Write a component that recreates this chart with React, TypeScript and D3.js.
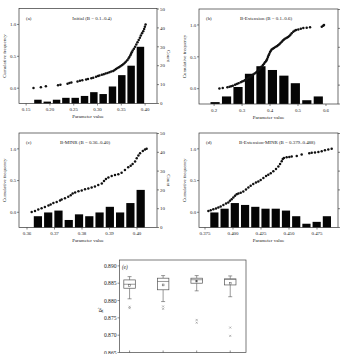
import React from 'react';
import * as d3 from 'd3';

// ---------- data ----------
// histogram counts (right axis "Count") and bin ranges (parameter value)
const countsA = [2, 1, 2, 3, 3, 4, 6, 5, 9, 15, 20, 30];
const binRangeA = [0.165, 0.4];
const countsB = [1, 4, 9, 16, 20, 18, 15, 11, 2, 4];
const binRangeB = [0.183, 0.593];
const countsC = [6, 8, 9, 4, 7, 6, 8, 11, 8, 13, 20];
const binRangeC = [0.3621, 0.4032];
const countsD = [8, 10, 13, 12, 11, 10, 10, 9, 6, 2, 3, 6];
const binRangeD = [0.3788, 0.4884];

// cumulative frequency points (left axis)
const cdfAx = [0.1655, 0.181, 0.1915, 0.217, 0.222, 0.237, 0.241, 0.245, 0.258, 0.263, 0.268, 0.276, 0.28, 0.287, 0.291, 0.297, 0.301, 0.304, 0.309, 0.313, 0.317, 0.321, 0.325, 0.329, 0.333, 0.336, 0.339, 0.342, 0.345, 0.348, 0.351, 0.354, 0.357, 0.3595, 0.3625, 0.365, 0.367, 0.369, 0.3705, 0.372, 0.374, 0.3765, 0.379, 0.3815, 0.384, 0.3865, 0.389, 0.391, 0.3935, 0.396, 0.398, 0.3995, 0.401];
const cdfAy = [0.005, 0.015, 0.03, 0.045, 0.055, 0.07, 0.08, 0.09, 0.105, 0.115, 0.125, 0.135, 0.145, 0.155, 0.165, 0.18, 0.19, 0.2, 0.21, 0.22, 0.23, 0.24, 0.25, 0.26, 0.27, 0.285, 0.3, 0.315, 0.33, 0.345, 0.36, 0.375, 0.395, 0.415, 0.44, 0.465, 0.49, 0.515, 0.54, 0.565, 0.59, 0.62, 0.65, 0.685, 0.72, 0.755, 0.79, 0.825, 0.86, 0.895, 0.93, 0.965, 1.0];

const cdfBx = [0.219, 0.231, 0.2476, 0.255, 0.261, 0.267, 0.275, 0.281, 0.287, 0.295, 0.3, 0.305, 0.31, 0.314, 0.318, 0.3226, 0.327, 0.331, 0.336, 0.34, 0.345, 0.35, 0.354, 0.358, 0.361, 0.364, 0.367, 0.37, 0.3745, 0.3786, 0.382, 0.386, 0.388, 0.39, 0.3925, 0.395, 0.3975, 0.4, 0.403, 0.406, 0.41, 0.414, 0.419, 0.424, 0.4285, 0.433, 0.4375, 0.442, 0.446, 0.45, 0.455, 0.46, 0.4645, 0.469, 0.473, 0.4775, 0.483, 0.488, 0.493, 0.501, 0.51, 0.519, 0.531, 0.543, 0.585, 0.59, 0.593];
const cdfBy = [0.005, 0.011, 0.021, 0.032, 0.04, 0.048, 0.063, 0.074, 0.085, 0.1, 0.111, 0.122, 0.132, 0.143, 0.156, 0.17, 0.18, 0.19, 0.206, 0.222, 0.238, 0.254, 0.27, 0.286, 0.299, 0.312, 0.33, 0.349, 0.37, 0.392, 0.413, 0.434, 0.452, 0.47, 0.497, 0.524, 0.55, 0.577, 0.595, 0.614, 0.627, 0.64, 0.653, 0.667, 0.682, 0.698, 0.716, 0.735, 0.754, 0.773, 0.787, 0.8, 0.812, 0.825, 0.846, 0.868, 0.894, 0.907, 0.92, 0.93, 0.94, 0.952, 0.957, 0.963, 0.973, 0.989, 1.0];

const cdfCx = [0.3617, 0.3629, 0.3641, 0.3653, 0.3665, 0.3678, 0.3686, 0.3696, 0.3708, 0.372, 0.3726, 0.3738, 0.375, 0.3759, 0.3766, 0.3775, 0.3787, 0.3799, 0.3811, 0.3823, 0.3835, 0.3847, 0.3859, 0.3872, 0.388, 0.3887, 0.3896, 0.3908, 0.392, 0.3932, 0.3944, 0.3956, 0.3968, 0.3977, 0.3984, 0.3993, 0.3999, 0.4005, 0.4011, 0.4021, 0.4029, 0.4035];
const cdfCy = [0.005, 0.021, 0.042, 0.063, 0.085, 0.106, 0.122, 0.148, 0.164, 0.185, 0.2, 0.222, 0.243, 0.27, 0.296, 0.312, 0.333, 0.344, 0.365, 0.376, 0.392, 0.407, 0.429, 0.455, 0.492, 0.524, 0.55, 0.571, 0.587, 0.598, 0.624, 0.667, 0.709, 0.735, 0.762, 0.8, 0.852, 0.894, 0.93, 0.968, 0.99, 1.0];

const cdfDx = [0.378, 0.3801, 0.3824, 0.3848, 0.3869, 0.389, 0.3914, 0.3938, 0.3958, 0.3973, 0.3988, 0.4003, 0.4018, 0.4033, 0.4048, 0.4069, 0.4092, 0.4116, 0.4137, 0.4158, 0.4181, 0.4205, 0.4226, 0.4247, 0.4271, 0.4295, 0.4315, 0.4337, 0.436, 0.4384, 0.4405, 0.442, 0.4435, 0.4444, 0.4455, 0.4479, 0.4503, 0.4524, 0.4569, 0.4613, 0.4681, 0.4703, 0.4732, 0.4762, 0.4792, 0.4821, 0.4851, 0.4881];
const cdfDy = [0.021, 0.032, 0.048, 0.058, 0.074, 0.09, 0.116, 0.138, 0.153, 0.18, 0.206, 0.233, 0.259, 0.286, 0.296, 0.307, 0.328, 0.36, 0.392, 0.418, 0.444, 0.471, 0.487, 0.508, 0.54, 0.571, 0.593, 0.614, 0.646, 0.683, 0.72, 0.762, 0.804, 0.841, 0.857, 0.868, 0.873, 0.878, 0.889, 0.91, 0.931, 0.937, 0.942, 0.952, 0.963, 0.979, 0.99, 1.0];

// tick labels
const ticksA = [0.15, 0.2, 0.25, 0.3, 0.35, 0.4];
const ticksB = [0.2, 0.3, 0.4, 0.5, 0.6];
const ticksC = [0.36, 0.37, 0.38, 0.39, 0.4];
const ticksD = [0.375, 0.4, 0.425, 0.45, 0.475];
const cumTicks = [0, 0.5, 1.0];
const countTicks = [0, 10, 20, 30, 40, 50];

// box plot (e)
const boxLabels = ['1', '2', '3', '4'];
const boxLow = [0.8805, 0.8797, 0.8828, 0.8811];
const boxQ1 = [0.88355, 0.8831, 0.885, 0.8845];
const boxMedian = [0.8847, 0.8855, 0.886, 0.8861];
const boxQ3 = [0.88595, 0.88645, 0.88645, 0.88625];
const boxHigh = [0.8869, 0.8872, 0.8872, 0.8871];
const boxMean = [0.8843, 0.8845, 0.8856, 0.885];
const boxOutliers = [[0.8782, 0.8778], [0.8783, 0.8776], [0.8744, 0.8736], [0.8722, 0.8698]];
const eTicks = [0.865, 0.87, 0.875, 0.88, 0.885, 0.89];

const FONT = '"Liberation Serif", "DejaVu Serif", "Times New Roman", serif';

type PanelProps = {
  left: number; right: number; top: number; bottom: number;
  xDomain: [number, number]; xTicks: number[]; xFmt: string;
  counts: number[]; binRange: number[];
  cx: number[]; cy: number[];
  tag: string; title: string; titleX: number;
  rightLabels: boolean;
};

function HistPanel(p: PanelProps) {
  const x = d3.scaleLinear().domain(p.xDomain).range([p.left, p.right]);
  const yL = d3.scaleLinear().domain([-0.24, 1.25]).range([p.bottom, p.top]);
  const yR = d3.scaleLinear().domain([0, 50]).range([p.bottom, p.top + 0.5]);
  const n = p.counts.length;
  const bw = (p.binRange[1] - p.binRange[0]) / n;
  const fmt = d3.format(p.xFmt);
  const fs = 4.9;
  const midY = (p.top + p.bottom) / 2;
  const midX = (p.left + p.right) / 2;
  return (
    <g fontFamily={FONT} fill="#222">
      {p.counts.map((c, i) => {
        const x0 = x(p.binRange[0] + i * bw);
        const x1 = x(p.binRange[0] + (i + 1) * bw);
        const g = (x1 - x0) * 0.1;
        return <rect key={'b' + i} x={x0 + g} width={x1 - x0 - 2 * g} y={yR(c)} height={yR(0) - yR(c)} fill="#050505" />;
      })}
      {p.cx.map((v, i) => (
        <circle key={'c' + i} cx={x(v)} cy={yL(p.cy[i])} r={1.25} fill="#111" />
      ))}
      <rect x={p.left} y={p.top} width={p.right - p.left} height={p.bottom - p.top} fill="none" stroke="#333" strokeWidth={0.7} />
      {p.xTicks.map((t) => (
        <g key={'xt' + t}>
          <line x1={x(t)} x2={x(t)} y1={p.bottom} y2={p.bottom + 2} stroke="#333" strokeWidth={0.6} />
          <text x={x(t)} y={p.bottom + 7.5} fontSize={fs} textAnchor="middle">{fmt(t)}</text>
        </g>
      ))}
      {cumTicks.map((t) => (
        <g key={'yl' + t}>
          <line x1={p.left - 2} x2={p.left} y1={yL(t)} y2={yL(t)} stroke="#333" strokeWidth={0.6} />
          <text x={p.left - 2.8} y={yL(t) + 1.7} fontSize={fs} textAnchor="end">{d3.format('.1f')(t)}</text>
        </g>
      ))}
      {countTicks.map((t) => (
        <g key={'yr' + t}>
          <line x1={p.right} x2={p.right + 2} y1={yR(t)} y2={yR(t)} stroke="#333" strokeWidth={0.6} />
          {p.rightLabels && <text x={p.right + 3} y={yR(t) + 1.7} fontSize={fs} textAnchor="start">{t}</text>}
        </g>
      ))}
      <text x={midX} y={p.bottom + 14.5} fontSize={fs} textAnchor="middle">Parameter value</text>
      <text transform={`translate(${p.left - 13.5},${midY}) rotate(-90)`} fontSize={fs} textAnchor="middle">Cumulative frequency</text>
      {p.rightLabels && (
        <text transform={`translate(${p.right + 10},${midY}) rotate(90)`} fontSize={fs} textAnchor="middle">Count</text>
      )}
      <text x={p.left + 7} y={p.top + 11} fontSize={fs} textAnchor="start">{p.tag}</text>
      <text x={p.titleX} y={p.top + 11} fontSize={fs} textAnchor="middle">{p.title}</text>
    </g>
  );
}

function BoxPanel() {
  const left = 119.5, right = 246, top = 260, bottom = 352.5;
  const x = d3.scaleLinear().domain([0.7, 4.47]).range([left, right]);
  const y = d3.scaleLinear().domain([0.865, 0.8917]).range([bottom, top]);
  const bw = 11.5;
  const fs = 5.6;
  const stroke = '#555';
  return (
    <g fontFamily={FONT} fill="#222">
      <rect x={left} y={top} width={right - left} height={bottom - top} fill="none" stroke="#444" strokeWidth={0.7} />
      {eTicks.map((t) => (
        <g key={'et' + t}>
          <line x1={left - 2} x2={left} y1={y(t)} y2={y(t)} stroke="#444" strokeWidth={0.6} />
          <text x={left - 3} y={y(t) + 2} fontSize={fs} textAnchor="end">{d3.format('.3f')(t)}</text>
        </g>
      ))}
      {boxLabels.map((lb, i) => {
        const cx = x(i + 1);
        return (
          <g key={'box' + lb}>
            <line x1={cx} x2={cx} y1={bottom} y2={bottom - 2} stroke="#444" strokeWidth={0.6} />
            <line x1={cx} x2={cx} y1={y(boxHigh[i])} y2={y(boxQ3[i])} stroke={stroke} strokeWidth={0.6} />
            <line x1={cx} x2={cx} y1={y(boxQ1[i])} y2={y(boxLow[i])} stroke={stroke} strokeWidth={0.6} />
            <line x1={cx - 2} x2={cx + 2} y1={y(boxHigh[i])} y2={y(boxHigh[i])} stroke={stroke} strokeWidth={0.6} />
            <line x1={cx - 2} x2={cx + 2} y1={y(boxLow[i])} y2={y(boxLow[i])} stroke={stroke} strokeWidth={0.6} />
            <rect x={cx - bw / 2} y={y(boxQ3[i])} width={bw} height={y(boxQ1[i]) - y(boxQ3[i])} fill="#fff" stroke={stroke} strokeWidth={0.7} />
            <line x1={cx - bw / 2} x2={cx + bw / 2} y1={y(boxMedian[i])} y2={y(boxMedian[i])} stroke={stroke} strokeWidth={0.6} />
            <rect x={cx - 0.9} y={y(boxMean[i]) - 0.9} width={1.8} height={1.8} fill="none" stroke="#555" strokeWidth={0.5} />
            {boxOutliers[i].map((o, j) => (
              <g key={'o' + j}>
                <line x1={cx - 1} x2={cx + 1} y1={y(o) - 1} y2={y(o) + 1} stroke="#777" strokeWidth={0.5} />
                <line x1={cx - 1} x2={cx + 1} y1={y(o) + 1} y2={y(o) - 1} stroke="#777" strokeWidth={0.5} />
              </g>
            ))}
          </g>
        );
      })}
      <text x={left + 2.5} y={top + 8.5} fontSize={5.2} fontStyle="italic">(e)</text>
      <text transform={`translate(${left - 17},${(top + bottom) / 2 + 4}) rotate(-90)`} fontSize={fs} textAnchor="middle" fontStyle="italic">
        R<tspan dy={-2} fontSize={3.6}>2</tspan>
      </text>
    </g>
  );
}

export default function App() {
  return (
    <svg width={340} height={354} style={{ position: 'absolute', left: 0, top: 0, background: '#fff' }}>
      <rect width={340} height={354} fill="#fff" />
      <HistPanel left={19} right={157} top={8.5} bottom={103.5} xDomain={[0.135, 0.425]} xTicks={ticksA} xFmt=".2f"
        counts={countsA} binRange={binRangeA} cx={cdfAx} cy={cdfAy} tag="(a)" title="Initial (B = 0.1–0.4)" titleX={92} rightLabels={true} />
      <HistPanel left={199} right={338} top={9} bottom={104} xDomain={[0.146, 0.643]} xTicks={ticksB} xFmt=".1f"
        counts={countsB} binRange={binRangeB} cx={cdfBx} cy={cdfBy} tag="(b)" title="B-Extension (B = 0.1–0.6)" titleX={266} rightLabels={false} />
      <HistPanel left={19} right={157} top={133} bottom={227.5} xDomain={[0.35709, 0.40727]} xTicks={ticksC} xFmt=".2f"
        counts={countsC} binRange={binRangeC} cx={cdfCx} cy={cdfCy} tag="(c)" title="B-MINR (B = 0.36–0.40)" titleX={85} rightLabels={true} />
      <HistPanel left={199} right={338} top={133} bottom={227.5} xDomain={[0.36964, 0.49375]} xTicks={ticksD} xFmt=".3f"
        counts={countsD} binRange={binRangeD} cx={cdfDx} cy={cdfDy} tag="(d)" title="B-Extension-MINR (B = 0.379–0.488)" titleX={277} rightLabels={false} />
      <BoxPanel />
    </svg>
  );
}
